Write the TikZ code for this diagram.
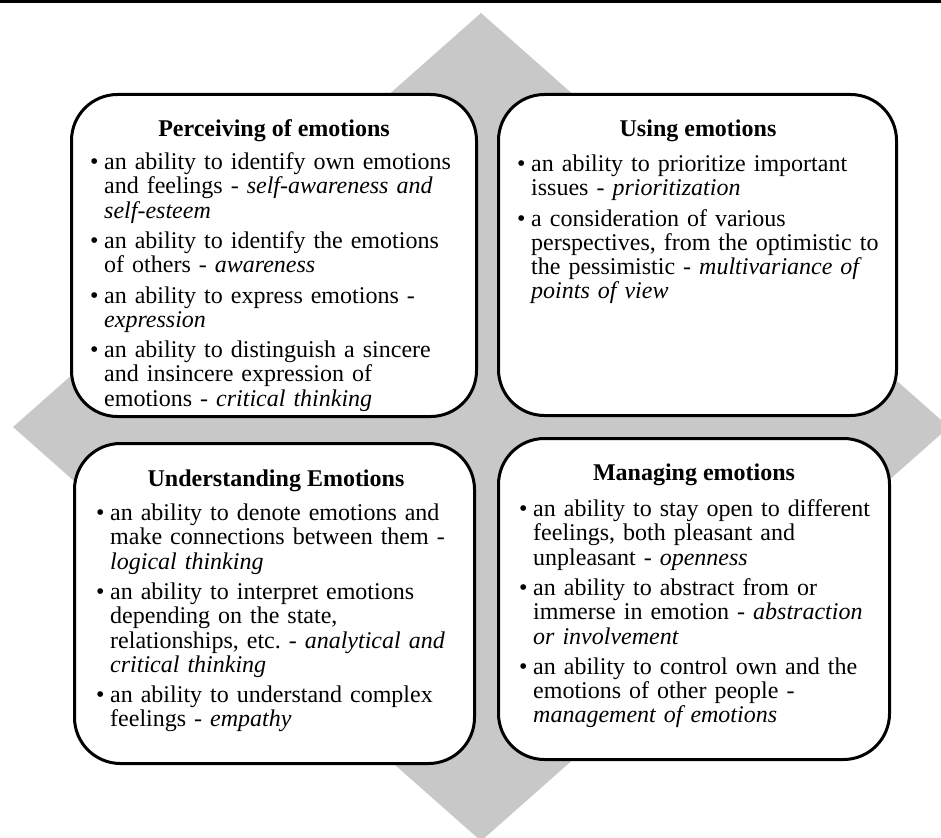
\documentclass[tikz,border=0pt]{standalone}
\usepackage{fontspec}
\setmainfont{Liberation Serif}
\usepackage{xcolor}
\usepackage{tikz}
\usetikzlibrary{positioning}
\definecolor{diam}{RGB}{200,200,200}
\tikzstyle{frame} = [rectangle, rounded corners=46pt, line width=3pt, draw=black, fill=white]
\tikzstyle{head} = [anchor=base, inner sep=0pt, font=\fontsize{24}{24.3}\selectfont\bfseries]
\tikzstyle{body} = [anchor=north west, inner sep=0pt, text width=400pt, font=\fontsize{24}{24.3}\selectfont\frenchspacing, execute at begin node=\setlength{\parskip}{6pt}]
\newcommand{\itm}{\par\hangindent=14pt\hangafter=1\noindent\makebox[14pt][l]{\textbullet}\strut}

\begin{document}
\begin{tikzpicture}[x=1pt, y=-1pt]
	\useasboundingbox (0,0) rectangle (941,837);
	\clip (0,0) rectangle (941,837);
	
	% Background
	\fill[black] (0,0) rectangle (941,3.5);
	\fill[diam] (481,13) -- (13,427) -- (481,841) -- (949,427) -- cycle;
	
	% Boxes
	\node (perc) [frame, minimum width=405pt, minimum height=322pt] at (274,255.5) {};
	\node (using) [frame, minimum width=398pt, minimum height=321pt] at (697.5,255) {};
	\node (under) [frame, minimum width=400pt, minimum height=320pt] at (274.5,603.5) {};
	\node (manag) [frame, minimum width=391pt, minimum height=321pt] at (694,599) {};
	
	% Titles
	\node (percH) [head] at (274,137) {Perceiving of emotions};
	\node (usingH) [head] at (698,137) {Using emotions};
	\node (underH) [head] at (276,486) {Understanding Emotions};
	\node (managH) [head] at (694,480) {Managing emotions};
	
	% Items
	\node (percB) [body] at (90,139) {%
		\itm an ability to identify own emotions\newline and feelings - \textit{self-awareness and}\newline \textit{self-esteem}
		\itm an ability to identify the emotions\newline of others - \textit{awareness}
		\itm an ability to express emotions -\newline \textit{expression}
		\itm an ability to distinguish a sincere\newline and insincere expression of\newline emotions - \textit{critical thinking}\par};
	\node (usingB) [body] at (517,141) {%
		\itm an ability to prioritize important\newline issues - \textit{prioritization}
		\itm a consideration of various\newline perspectives, from the optimistic to\newline the pessimistic - \textit{multivariance of}\newline \textit{points of view}\par};
	\node (underB) [body] at (96,490) {%
		\itm an ability to denote emotions and\newline make connections between them -\newline \textit{logical thinking}
		\itm an ability to interpret emotions\newline depending on the state,\newline relationships, etc. - \textit{analytical and}\newline \textit{critical thinking}
		\itm an ability to understand complex\newline feelings - \textit{empathy}\par};
	\node (managB) [body] at (519,486) {%
		\itm an ability to stay open to different\newline feelings, both pleasant and\newline unpleasant - \textit{openness}
		\itm an ability to abstract from or\newline immerse in emotion - \textit{abstraction}\newline \textit{or involvement}
		\itm an ability to control own and the\newline emotions of other people -\newline \textit{management of emotions}\par};
	
\end{tikzpicture}
\end{document}
